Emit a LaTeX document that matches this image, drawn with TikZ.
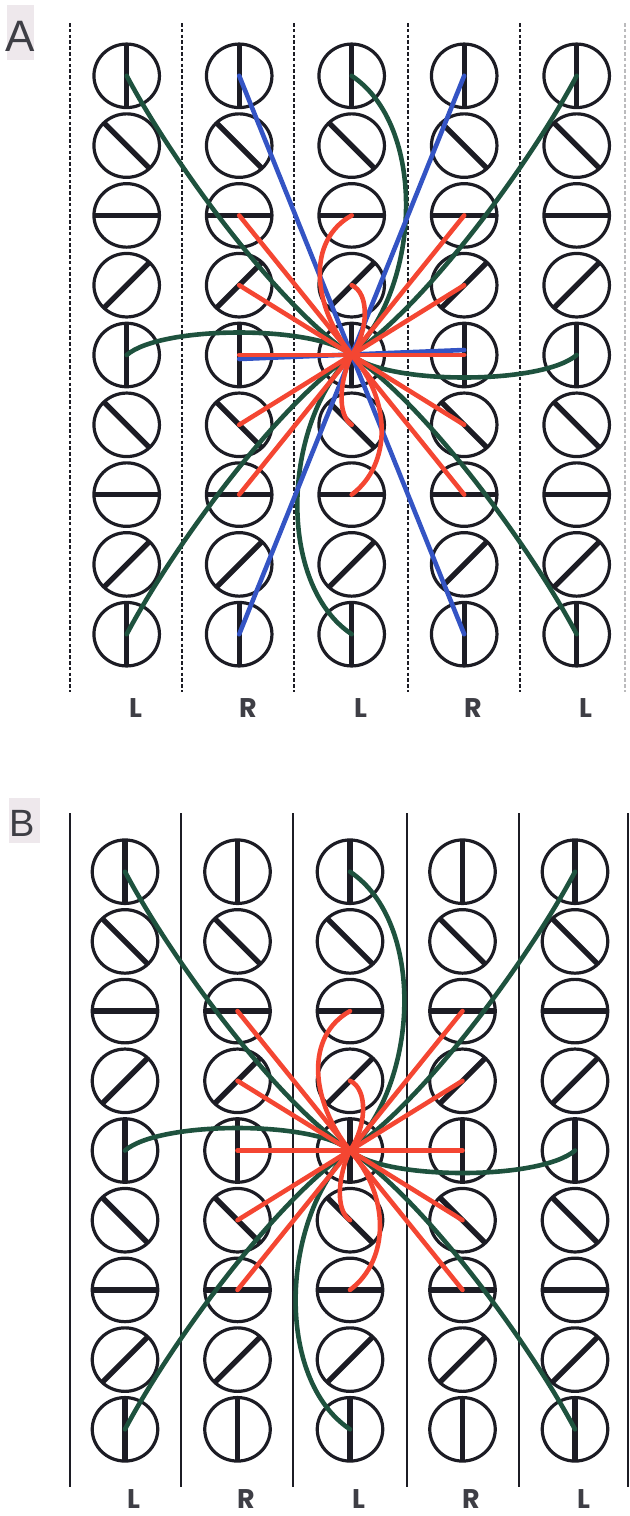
\documentclass[tikz,border=0pt]{standalone}
\usepackage{fontspec}
\setmainfont{Liberation Sans}
\newfontfamily\labfont{Poppins}
\usetikzlibrary{shapes.geometric}
\definecolor{ink}{RGB}{28,28,36}
\definecolor{fgreen}{RGB}{30,82,62}
\definecolor{fblue}{RGB}{52,84,196}
\definecolor{fred}{RGB}{244,70,50}
\definecolor{tagbg}{RGB}{238,232,236}
\tikzset{
  cell/.style={ellipse, draw=ink, line width=1.6pt, inner sep=0pt, outer sep=0pt,
    minimum width=32.75pt, minimum height=31.75pt},
  barat/.style={cell, path picture={\draw[ink, line width=2.7pt]
      (path picture bounding box.center) ++(#1:18pt) -- ++(#1+180:36pt);}},
  fibre/.style={line width=2.3pt, line cap=round},
  gline/.style={fibre, draw=fgreen},
  bline/.style={fibre, draw=fblue},
  rline/.style={fibre, draw=fred},
  sepdash/.style={draw=ink, line width=1.3pt, dash pattern=on 1.8pt off 1.1pt},
  sepsolid/.style={draw=ink, line width=1.2pt},
  collab/.style={font=\labfont\bfseries\fontsize{13.5}{13.5}\selectfont, text=ink!85, inner sep=0pt},
  panellab/.style={text=ink!85},
}
% green fibres and red fibres common to both panels; #1 = panel prefix
\newcommand\fanlines[1]{%
  \draw[gline] (#111.center) .. controls +(45,85) and +(-75,-50) .. (#135.center);
  \draw[gline] (#151.center) .. controls +(-45,85) and +(75,-50) .. (#135.center);
  \draw[gline] (#119.center) .. controls +(45,-85) and +(-75,50) .. (#135.center);
  \draw[gline] (#159.center) .. controls +(-45,-85) and +(75,50) .. (#135.center);
  \draw[gline] (#115.center) .. controls +(35,-30) and +(-35,-30) .. (#135.center);
  \draw[gline] (#155.center) .. controls +(-35,30) and +(35,30) .. (#135.center);
  \draw[gline] (#131.center) .. controls +(75,50) and +(70,-70) .. (#135.center);
  \draw[gline] (#139.center) .. controls +(-75,-50) and +(-70,70) .. (#135.center);
}
\newcommand\redlines[1]{%
  \foreach \r in {3,4,5,6,7}{
    \draw[rline] (#12\r.center) -- (#135.center);
    \draw[rline] (#14\r.center) -- (#135.center);
  }
  \draw[rline] (#133.center) .. controls +(-45,25) and +(-40,-50) .. (#135.center);
  \draw[rline] (#134.center) .. controls +(18,8) and +(17,-25) .. (#135.center);
  \draw[rline] (#136.center) .. controls +(-15,-10) and +(-12,25) .. (#135.center);
  \draw[rline] (#137.center) .. controls +(40,-30) and +(40,45) .. (#135.center);
}
\begin{document}
\begin{tikzpicture}[x=0.5pt,y=-0.5pt]
\useasboundingbox (0,0) rectangle (630,1516);

% panel tags
\fill[tagbg] (7,5) rectangle (34,60);
\node[panellab, font=\fontsize{22}{22}\selectfont] (tagA) at (20.5,36) {A};
\fill[tagbg] (9,798) rectangle (40,843);
\node[panellab, font=\fontsize{19}{19}\selectfont] (tagB) at (22.5,823) {B};

% column separators
\foreach \x in {70,182,294,408,520}
  \draw[sepdash] (\x,23) -- (\x,692);
\draw[sepdash, draw=ink!30] (625,23) -- (625,692);
\foreach \x in {70,181,293,407,519,628}
  \draw[sepsolid] (\x,813) -- (\x,1487);

% cells with their oriented bars
\foreach \c in {1,...,5}{
  \foreach \r/\ang in {1/90,2/135,3/0,4/45,5/90,6/135,7/0,8/45,9/90}{
    \node[barat=\ang] (a\c\r) at ({126.7+112.5*(\c-1)},{75.8+69.8*(\r-1)}) {};
    \node[barat=\ang] (b\c\r) at ({125+112.5*(\c-1)},{871.7+69.7*(\r-1)}) {};
  }
}

% panel A
\fanlines{a}
\draw[bline] (a21.center) -- (a35.center);
\draw[bline] (a41.center) -- (a35.center);
\draw[bline] (a29.center) -- (a35.center);
\draw[bline] (a49.center) -- (a35.center);
\draw[bline] ([yshift=-2pt]a25.center) -- ([yshift=2.5pt]a45.center);
\redlines{a}

% panel B
\fanlines{b}
\redlines{b}

% column labels
\foreach \c/\t in {1/L,2/R,3/L,4/R,5/L}{
  \node[collab] (la\c) at ({135.5+112.5*(\c-1)},708) {\t};
  \node[collab] (lb\c) at ({133.5+112.5*(\c-1)},1499) {\t};
}
\end{tikzpicture}
\end{document}
